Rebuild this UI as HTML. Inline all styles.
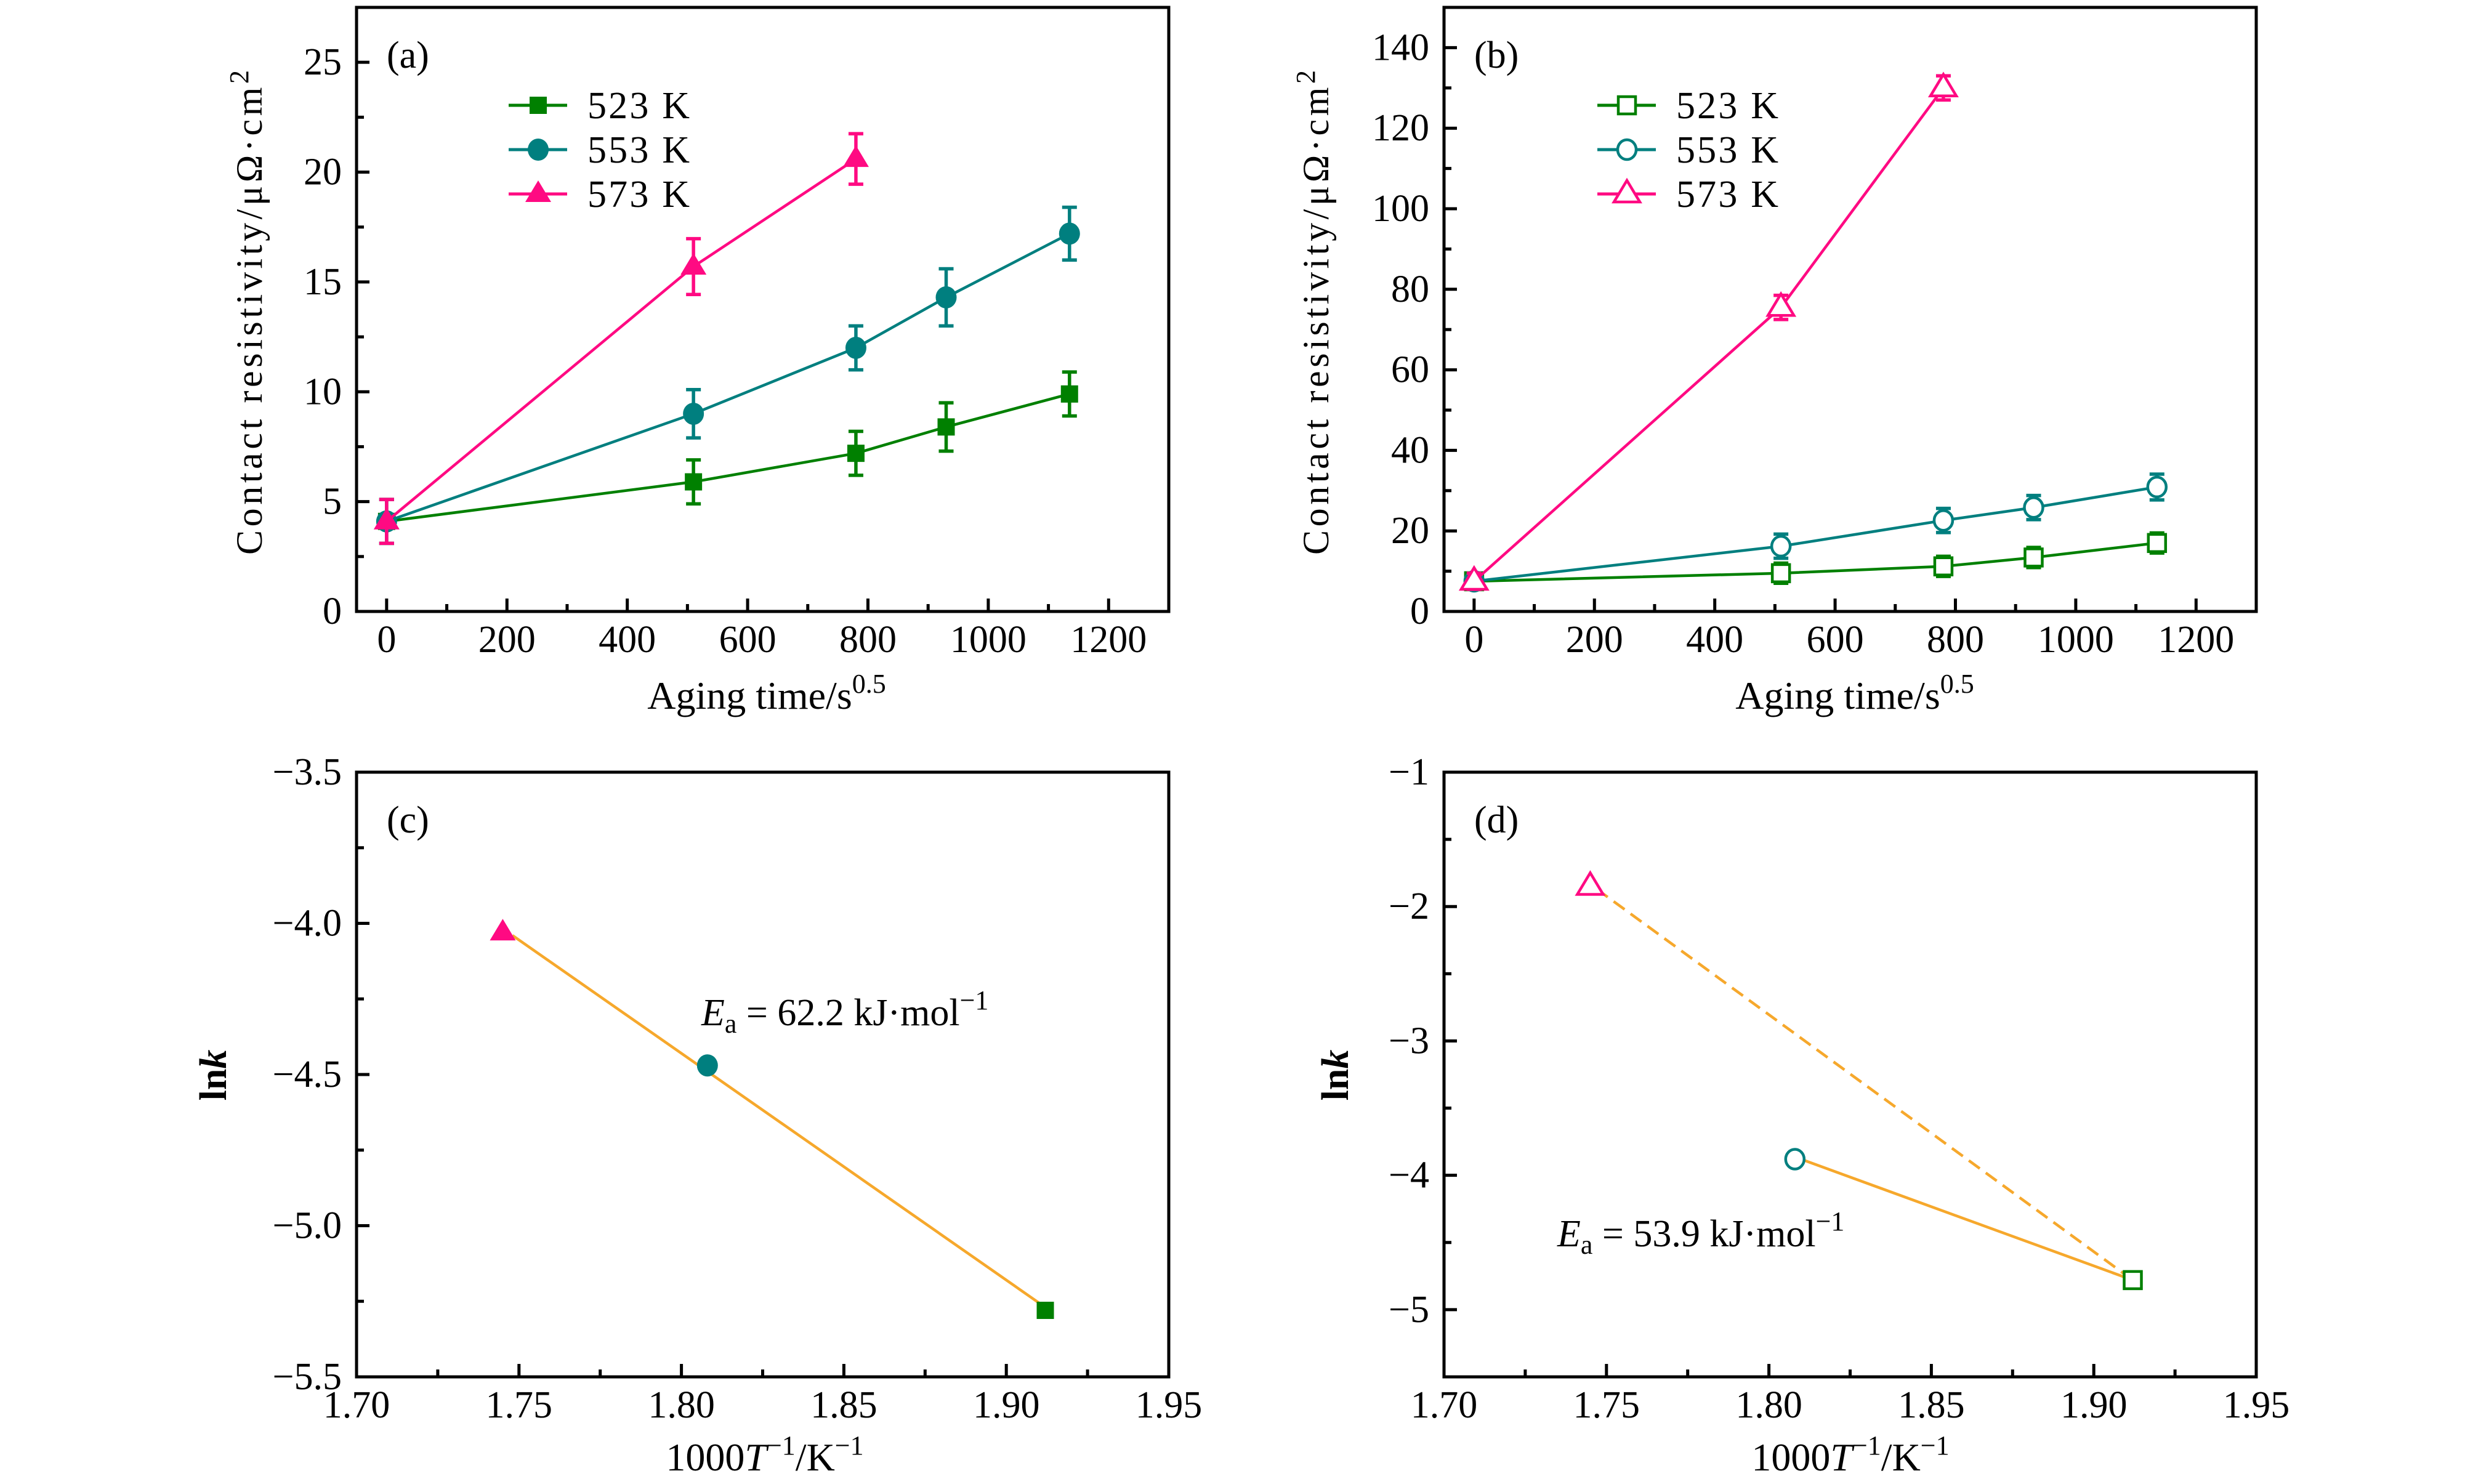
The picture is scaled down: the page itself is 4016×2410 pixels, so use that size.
<!DOCTYPE html>
<html><head><meta charset="utf-8"><style>
html,body{margin:0;padding:0;background:#fff;}
svg{display:block;}
text{font-family:"Liberation Serif",serif;fill:#000;}
</style></head>
<body>
<svg id="fig" xmlns="http://www.w3.org/2000/svg" width="4016" height="2410" viewBox="0 0 4016 2410"></svg>
<script>
// ---- data ----
const agingX = [0, 510, 780, 930, 1135];
const aR523 = [4.1, 5.9, 7.2, 8.4, 9.9];
const aE523 = [1.0, 1.0, 1.0, 1.1, 1.0];
const aR553 = [4.1, 9.0, 12.0, 14.3, 17.2];
const aE553 = [1.0, 1.1, 1.0, 1.3, 1.2];
const aX573 = [0, 510, 780];
const aR573 = [4.1, 15.7, 20.6];
const aE573 = [1.0, 1.27, 1.15];
const bR523 = [7.5, 9.5, 11.2, 13.4, 17.0];
const bE523 = [2.0, 2.5, 2.5, 2.5, 2.5];
const bR553 = [7.5, 16.2, 22.6, 25.8, 30.9];
const bE553 = [2.0, 3.0, 3.0, 3.0, 3.2];
const bR573 = [7.5, 75.5, 130.0];
const bE573 = [2.0, 3.0, 3.0];
const invT = [1.745, 1.808, 1.912];
const cLnk = [-4.03, -4.47, -5.28];
const dLnk = [-1.85, -3.88, -4.78];
const cFit = [[1.748, -4.04], [1.912, -5.27]];
const dFitSolid = [[1.811, -3.89], [1.912, -4.78]];
const dFitDash = [[1.747, -1.87], [1.912, -4.78]];
const xTicksAging = [0, 200, 400, 600, 800, 1000, 1200];
const yTicksA = [0, 5, 10, 15, 20, 25];
const yTicksB = [0, 20, 40, 60, 80, 100, 120, 140];
const xTicksT = [1.70, 1.75, 1.80, 1.85, 1.90, 1.95];
const yTicksC = [-5.5, -5.0, -4.5, -4.0, -3.5];
const yTicksD = [-5, -4, -3, -2, -1];

const GREEN = '#008000', TEAL = '#007f7f', PINK = '#ff0a82', ORANGE = '#f6a82c';
const svg = document.getElementById('fig');
const NS = 'http://www.w3.org/2000/svg';
function el(tag, attrs, parent) {
  const e = document.createElementNS(NS, tag);
  for (const k in attrs) e.setAttribute(k, attrs[k]);
  (parent || svg).appendChild(e);
  return e;
}
function mkScale(d0, d1, p0, p1) { return v => p0 + (v - d0) * (p1 - p0) / (d1 - d0); }

function panel(name, L, R, T, B, xd, yd, xt, xminor, yt, yminor, yfmt, xfmt) {
  const g = el('g', {});
  
  
  const sx = mkScale(xd[0], xd[1], L, R), sy = mkScale(yd[0], yd[1], B, T);
  const ax = el('g', {}, g);
  
  
  xt.forEach(v => {
    const x = sx(v);
    el('line', {x1: x, y1: B, x2: x, y2: B - 21, stroke: '#000', 'stroke-width': 5}, ax);
    const t = el('text', {x: x, y: B + 66, 'font-size': 62, 'text-anchor': 'middle'}, ax);
    t.textContent = xfmt(v);
    
    
  });
  xminor.forEach(v => { const x = sx(v); el('line', {x1: x, y1: B, x2: x, y2: B - 12, stroke: '#000', 'stroke-width': 5}, ax); });
  const ay = el('g', {}, g);
  
  
  yt.forEach(v => {
    const y = sy(v);
    el('line', {x1: L, y1: y, x2: L + 21, y2: y, stroke: '#000', 'stroke-width': 5}, ay);
    const t = el('text', {x: L - 24, y: y + 20, 'font-size': 62, 'text-anchor': 'end'}, ay);
    t.textContent = yfmt(v);
    
    
  });
  yminor.forEach(v => { const y = sy(v); el('line', {x1: L, y1: y, x2: L + 12, y2: y, stroke: '#000', 'stroke-width': 5}, ay); });
  return {g, sx, sy, L, R, T, B};
}
function frame(p) {
  const r = el('rect', {x: p.L, y: p.T, width: p.R - p.L, height: p.B - p.T, fill: 'none', stroke: '#000', 'stroke-width': 5}, p.g);
  
  
}
function marker(parent, shape, x, y, color, filled) {
  const sw = 4.5;
  const fill = filled ? color : '#fff';
  let m;
  if (shape === 'sq') m = el('rect', {x: x - 14, y: y - 14, width: 28, height: 28, fill: fill, stroke: color, 'stroke-width': filled ? 0 : sw}, parent);
  else if (shape === 'ci') m = el('ellipse', {cx: x, cy: y, rx: filled ? 17 : 15, ry: filled ? 18 : 16, fill: fill, stroke: color, 'stroke-width': filled ? 0 : sw}, parent);
  else m = el('polygon', {points: `${x},${y - 22} ${x - 21},${y + 13} ${x + 21},${y + 13}`, fill: fill, stroke: color, 'stroke-width': filled ? 0 : sw}, parent);
  
  
}
function series(p, name, xs, ys, es, color, shape, filled, lw) {
  const g = el('g', {}, p.g);
  
  
  const pts = xs.map((v, i) => p.sx(v) + ',' + p.sy(ys[i])).join(' ');
  el('polyline', {points: pts, fill: 'none', stroke: color, 'stroke-width': lw}, g);
  xs.forEach((v, i) => {
    if (!es) return;
    const x = p.sx(v), y1 = p.sy(ys[i] - es[i]), y2 = p.sy(ys[i] + es[i]);
    const eb = el('g', {stroke: color, 'stroke-width': 5.5}, g);
    
    
    el('line', {x1: x, y1: y1, x2: x, y2: y2}, eb);
    el('line', {x1: x - 12, y1: y1, x2: x + 12, y2: y1}, eb);
    el('line', {x1: x - 12, y1: y2, x2: x + 12, y2: y2}, eb);
  });
  xs.forEach((v, i) => marker(g, shape, p.sx(v), p.sy(ys[i]), color, filled));
}
function txt(parent, name, x, y, size, html, attrs) {
  const t = el('text', Object.assign({x: x, y: y, 'font-size': size}, attrs || {}), parent);
  t.innerHTML = html;
  
  
  return t;
}
function legend(p, x0, items, filled) {
  const g = el('g', {}, p.g);
  
  
  const rows = [171, 243, 315];
  items.forEach((it, i) => {
    const e = el('g', {}, g);
    
    
    el('line', {x1: x0, y1: rows[i], x2: x0 + 95, y2: rows[i], stroke: it[1], 'stroke-width': 5}, e);
    marker(e, it[2], x0 + 48, rows[i], it[1], filled);
    txt(e, 'legend-label', x0 + 128, rows[i] + 21, 62, it[0], {textLength: 166});
  });
}
const minorAging = [100, 300, 500, 700, 900, 1100];
const minorT = [1.725, 1.775, 1.825, 1.875, 1.925];
const intF = v => String(v);

// Panel (a)
const pa = panel('panel-a', 579, 1898, 12, 993, [-50, 1300], [0, 27.5], xTicksAging, minorAging, yTicksA, [2.5, 7.5, 12.5, 17.5, 22.5], intF, intF);
series(pa, 'series-523k', agingX, aR523, aE523, GREEN, 'sq', true, 4.5);
series(pa, 'series-553k', agingX, aR553, aE553, TEAL, 'ci', true, 4.5);
series(pa, 'series-573k', aX573, aR573, aE573, PINK, 'tr', true, 4.5);
frame(pa);
legend(pa, 826, [['523 K', GREEN, 'sq'], ['553 K', TEAL, 'ci'], ['573 K', PINK, 'tr']], true);
txt(pa.g, 'panel-label-a', 628, 110, 62, '(a)');
txt(pa.g, 'x-axis-title', 1245, 1151, 64, 'Aging time/s<tspan dy="-26" font-size="44">0.5</tspan>', {'text-anchor': 'middle'});
txt(pa.g, 'y-axis-title', 0, 0, 60, 'Contact resistivity/μΩ·cm<tspan dy="-22" font-size="44">2</tspan>', {'text-anchor': 'middle', transform: 'translate(425,506) rotate(-90)', textLength: 790, 'letter-spacing': 3});

// Panel (b)
const pb = panel('panel-b', 2345, 3664, 12, 993, [-50, 1300], [0, 150], xTicksAging, minorAging, yTicksB, [10, 30, 50, 70, 90, 110, 130], intF, intF);
series(pb, 'series-523k', agingX, bR523, bE523, GREEN, 'sq', false, 4.5);
series(pb, 'series-553k', agingX, bR553, bE553, TEAL, 'ci', false, 4.5);
series(pb, 'series-573k', aX573, bR573, bE573, PINK, 'tr', false, 4.5);
frame(pb);
legend(pb, 2594, [['523 K', GREEN, 'sq'], ['553 K', TEAL, 'ci'], ['573 K', PINK, 'tr']], false);
txt(pb.g, 'panel-label-b', 2394, 110, 62, '(b)');
txt(pb.g, 'x-axis-title', 3012, 1151, 64, 'Aging time/s<tspan dy="-26" font-size="44">0.5</tspan>', {'text-anchor': 'middle'});
txt(pb.g, 'y-axis-title', 0, 0, 60, 'Contact resistivity/μΩ·cm<tspan dy="-22" font-size="44">2</tspan>', {'text-anchor': 'middle', transform: 'translate(2157,506) rotate(-90)', textLength: 790, 'letter-spacing': 3});

const fmt2 = v => v.toFixed(2);
const fmtC = v => (v < 0 ? '−' : '') + Math.abs(v).toFixed(1);
const fmtD = v => (v < 0 ? '−' : '') + Math.abs(v);

// Panel (c)
const pc = panel('panel-c', 579, 1898, 1254, 2236, [1.70, 1.95], [-5.5, -3.5], xTicksT, minorT, yTicksC, [-5.25, -4.75, -4.25, -3.75], fmtC, fmt2);
const cl = el('line', {x1: pc.sx(cFit[0][0]), y1: pc.sy(cFit[0][1]), x2: pc.sx(cFit[1][0]), y2: pc.sy(cFit[1][1]), stroke: ORANGE, 'stroke-width': 4.5}, pc.g);


const cShapes = ['tr', 'ci', 'sq'], cCols = [PINK, TEAL, GREEN];
invT.forEach((v, i) => marker(pc.g, cShapes[i], pc.sx(v), pc.sy(cLnk[i]), cCols[i], true));
frame(pc);
txt(pc.g, 'panel-label-c', 628, 1352, 62, '(c)');
txt(pc.g, 'activation-energy-annotation', 1139, 1665, 62, '<tspan font-style="italic">E</tspan><tspan dy="12" font-size="44">a</tspan><tspan dy="-12"> = 62.2 kJ·mol</tspan><tspan dy="-26" font-size="44">−1</tspan>');
txt(pc.g, 'x-axis-title', 1242, 2388, 64, '1000<tspan font-style="italic">T</tspan><tspan dy="-26" font-size="44">−1</tspan><tspan dy="26">/K</tspan><tspan dy="-26" font-size="44">−1</tspan>', {'text-anchor': 'middle'});
txt(pc.g, 'y-axis-title', 0, 0, 62, 'ln<tspan font-style="italic">k</tspan>', {'text-anchor': 'middle', 'font-weight': 'bold', transform: 'translate(367,1746) rotate(-90)'});

// Panel (d)
const pd = panel('panel-d', 2345, 3664, 1254, 2236, [1.70, 1.95], [-5.5, -1], xTicksT, minorT, yTicksD, [-4.5, -3.5, -2.5, -1.5], fmtD, fmt2);
const dl1 = el('line', {x1: pd.sx(dFitDash[0][0]), y1: pd.sy(dFitDash[0][1]), x2: pd.sx(dFitDash[1][0]), y2: pd.sy(dFitDash[1][1]), stroke: ORANGE, 'stroke-width': 4.5, 'stroke-dasharray': '22,12'}, pd.g);


const dl2 = el('line', {x1: pd.sx(dFitSolid[0][0]), y1: pd.sy(dFitSolid[0][1]), x2: pd.sx(dFitSolid[1][0]), y2: pd.sy(dFitSolid[1][1]), stroke: ORANGE, 'stroke-width': 4.5}, pd.g);


invT.forEach((v, i) => marker(pd.g, cShapes[i], pd.sx(v), pd.sy(dLnk[i]), cCols[i], false));
frame(pd);
txt(pd.g, 'panel-label-d', 2394, 1352, 62, '(d)');
txt(pd.g, 'activation-energy-annotation', 2529, 2024, 62, '<tspan font-style="italic">E</tspan><tspan dy="12" font-size="44">a</tspan><tspan dy="-12"> = 53.9 kJ·mol</tspan><tspan dy="-26" font-size="44">−1</tspan>');
txt(pd.g, 'x-axis-title', 3005, 2388, 64, '1000<tspan font-style="italic">T</tspan><tspan dy="-26" font-size="44">−1</tspan><tspan dy="26">/K</tspan><tspan dy="-26" font-size="44">−1</tspan>', {'text-anchor': 'middle'});
txt(pd.g, 'y-axis-title', 0, 0, 62, 'ln<tspan font-style="italic">k</tspan>', {'text-anchor': 'middle', 'font-weight': 'bold', transform: 'translate(2189,1746) rotate(-90)'});
</script>
</body></html>
